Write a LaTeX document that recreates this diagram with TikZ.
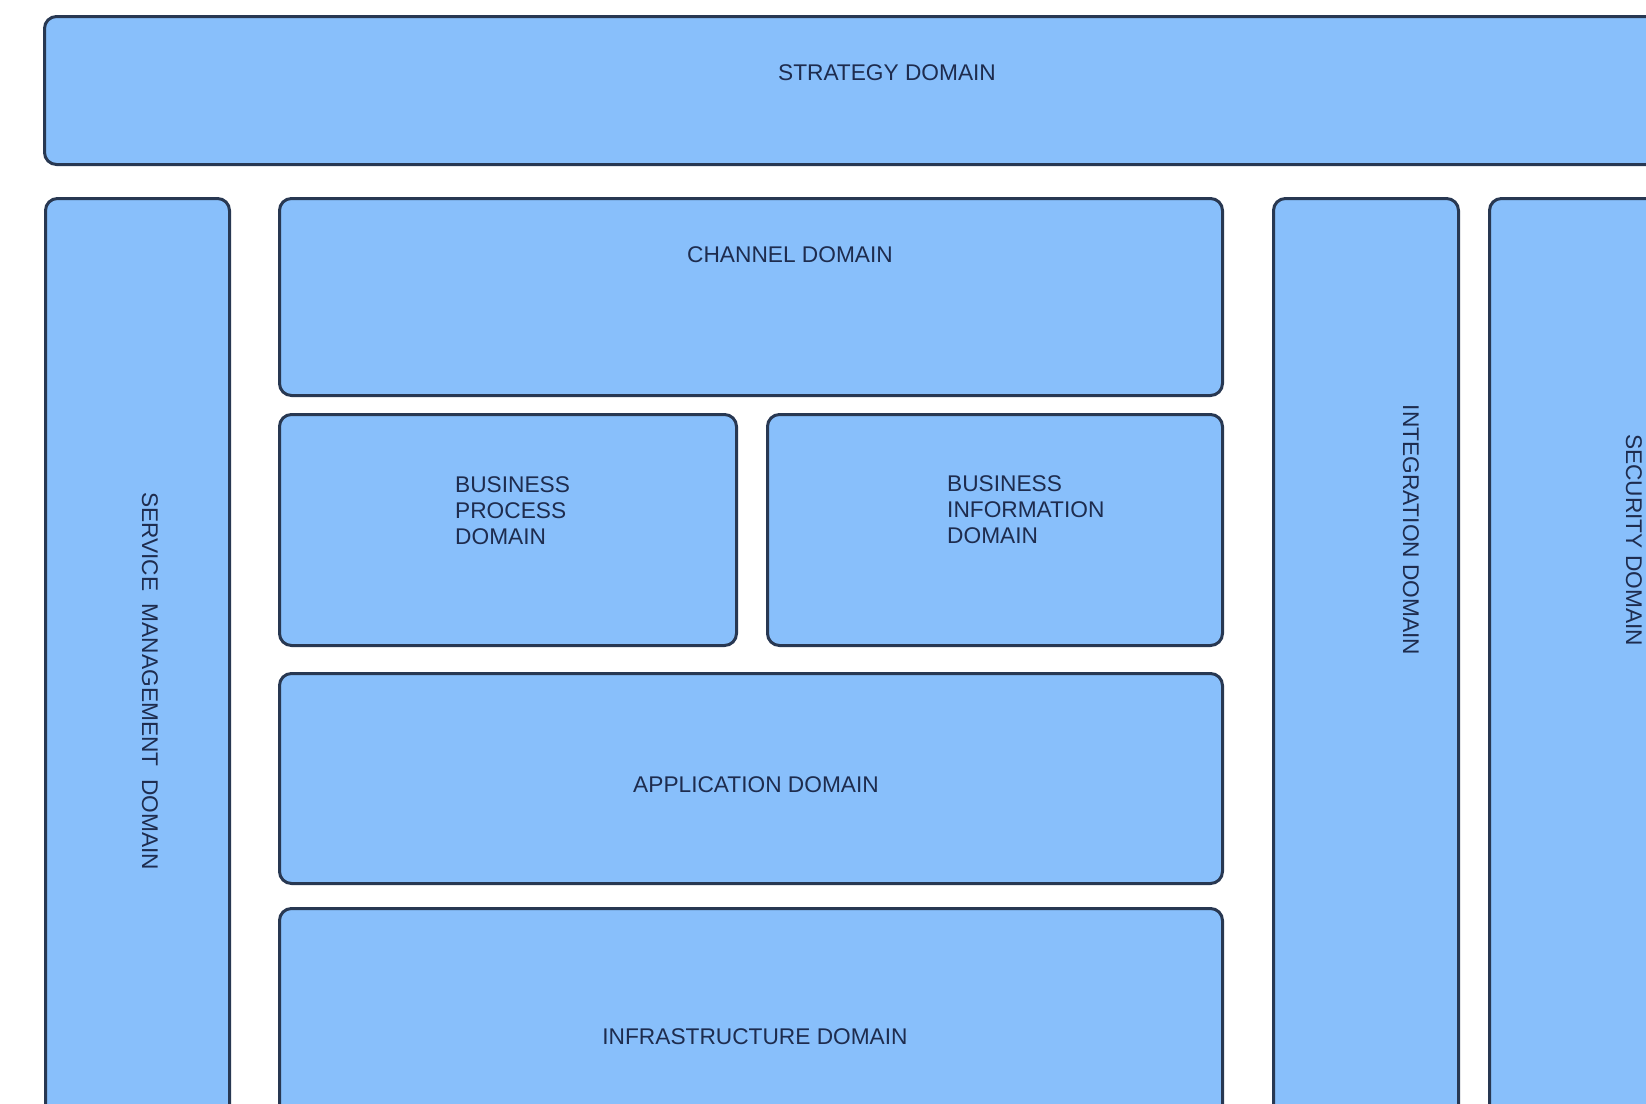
\documentclass[tikz,border=0pt]{standalone}
\usepackage{fontspec}
\setmainfont{Liberation Sans}
\definecolor{domainfill}{RGB}{136,191,251}
\definecolor{domainline}{RGB}{40,56,82}
\definecolor{domaintext}{RGB}{30,44,78}
\tikzset{
  box/.style={draw=domainline, fill=domainfill, line width=3pt,
              rounded corners=12pt, inner sep=0pt, anchor=north west},
  lbl/.style={text=domaintext, inner sep=0pt,
              font=\fontsize{22.7}{26}\selectfont},
  vlbl/.style={lbl, rotate=-90}
}
\begin{document}
\begin{tikzpicture}[x=1pt, y=-1pt]
  \useasboundingbox (0,0) rectangle (1646,1103);
  \fill[white] (0,0) rectangle (1646,1103);
  \clip (0,0) rectangle (1646,1103);

  % outer frame of domains
  \node[box, minimum width=1717pt, minimum height=148pt] (strategy) at (43,15) {};
  \node[box, minimum width=184pt, minimum height=960pt] (service) at (44,197) {};
  \node[box, minimum width=185pt, minimum height=960pt] (integration) at (1272,197) {};
  \node[box, minimum width=300pt, minimum height=960pt] (security) at (1488,197) {};

  % inner stack of domains
  \node[box, minimum width=943pt, minimum height=197pt] (channel) at (278,197) {};
  \node[box, minimum width=457pt, minimum height=231pt] (process) at (278,413) {};
  \node[box, minimum width=455pt, minimum height=231pt] (information) at (766,413) {};
  \node[box, minimum width=943pt, minimum height=210pt] (application) at (278,672) {};
  \node[box, minimum width=943pt, minimum height=260pt] (infrastructure) at (278,907) {};

  % labels
  \node[lbl] (strategytxt) at (887,73) {STRATEGY DOMAIN};
  \node[lbl] (channeltxt) at (790,255) {CHANNEL DOMAIN};
  \node[lbl, align=left, anchor=west] (processtxt) at (455,511)
    {BUSINESS\\PROCESS\\DOMAIN};
  \node[lbl, align=left, anchor=west] (informationtxt) at (947,510)
    {BUSINESS\\INFORMATION\\DOMAIN};
  \node[lbl] (applicationtxt) at (756,785) {APPLICATION DOMAIN};
  \node[lbl] (infrastructuretxt) at (755,1037) {INFRASTRUCTURE DOMAIN};
  \node[vlbl] (servicetxt) at (150,681) {SERVICE\ \ MANAGEMENT\ \ DOMAIN};
  \node[vlbl] (integrationtxt) at (1411,530) {INTEGRATION DOMAIN};
  \node[vlbl] (securitytxt) at (1634,540) {SECURITY DOMAIN};
\end{tikzpicture}
\end{document}
